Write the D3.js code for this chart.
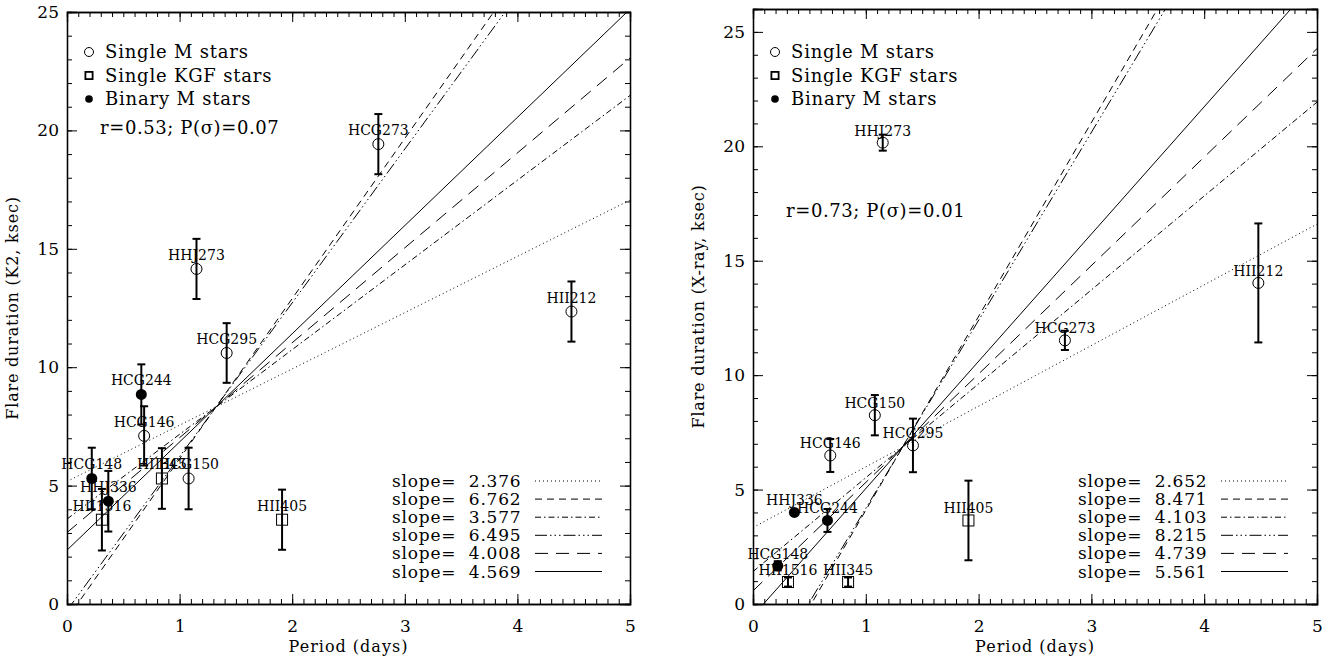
<!DOCTYPE html>
<html>
<head>
<meta charset="utf-8">
<script src="https://cdn.jsdelivr.net/npm/d3@7"></script>
<style>
body { margin: 0; background: #fff; }
svg text { font-family: "DejaVu Serif", serif; fill: #000; }
</style>
</head>
<body>
<svg id="chart" width="1337" height="661"></svg>
<script>
// Stars, their type and rotation period (days)
const stars = ['HHJ273', 'HII212', 'HCG273', 'HCG150', 'HCG146', 'HCG295',
               'HII405', 'HHJ336', 'HCG244', 'HCG148', 'HII1516', 'HII345'];
const starTypes = ['singleM', 'singleM', 'singleM', 'singleM', 'singleM', 'singleM',
                   'singleKGF', 'binaryM', 'binaryM', 'binaryM', 'singleKGF', 'singleKGF'];
const periods = [1.15, 4.48, 2.765, 1.08, 0.685, 1.418, 1.91, 0.367, 0.66, 0.22, 0.31, 0.843];

// Flare durations (ksec) and errors
const k2Duration = [14.15, 12.35, 19.42, 5.3, 7.1, 10.6, 3.56, 4.34, 8.85, 5.3, 3.56, 5.3];
const k2Error = [1.27, 1.27, 1.27, 1.3, 1.25, 1.26, 1.27, 1.28, 1.27, 1.3, 1.3, 1.28];
const xrayDuration = [20.16, 14.03, 11.52, 8.25, 6.49, 6.93, 3.65, 4.0, 3.65, 1.67, 0.96, 0.96];
const xrayError = [0.35, 2.6, 0.42, 0.88, 0.72, 1.17, 1.74, 0.1, 0.5, 0.2, 0.2, 0.2];

// Regression fits
const k2Slopes = [2.376, 6.762, 3.577, 6.495, 4.008, 4.569];
const k2Intercepts = [5.176, -0.626, 3.588, -0.273, 3.017, 2.275];
const xraySlopes = [2.652, 8.471, 4.103, 8.215, 4.739, 5.561];
const xrayIntercepts = [3.340, -4.374, 1.417, -4.035, 0.573, -0.516];
const lineStyles = ['dotted', 'dashed', 'dashdot', 'dashdot3', 'longdash', 'solid'];

const k2Stats = 'r=0.53; P(σ)=0.07';
const xrayStats = 'r=0.73; P(σ)=0.01';

const legendLabels = ['Single M stars', 'Single KGF stars', 'Binary M stars'];
const legendTypes = ['singleM', 'singleKGF', 'binaryM'];

const xTicks = [0, 1, 2, 3, 4, 5];
const yTicks = [0, 5, 10, 15, 20, 25];

const dashes = {
    dotted: '1,3',
    dashed: '7,5',
    dashdot: '6,3,1.5,3',
    dashdot3: '12,3,1.5,3,1.5,3,1.5,3',
    longdash: '13,8',
    solid: null
};

const svg = d3.select('#chart');

function drawPanel(cfg) {
    const x = d3.scaleLinear().domain([0, 5]).range([cfg.left, cfg.right]);
    const y = d3.scaleLinear().domain([0, cfg.yMax]).range([cfg.bottom, cfg.top]);
    const g = svg.append('g');
    const w = cfg.right - cfg.left;
    const h = cfg.bottom - cfg.top;

    // Clip for the fit lines
    g.append('clipPath').attr('id', cfg.id + '-clip')
        .append('rect')
        .attr('x', cfg.left).attr('y', cfg.top)
        .attr('width', w).attr('height', h);

    // Minor ticks
    const minorX = d3.range(0, 5.001, 0.1);
    const minorY = d3.range(0, cfg.yMax + 0.001, 1);
    g.append('g').attr('transform', `translate(0,${cfg.bottom})`)
        .call(d3.axisBottom(x).tickValues(minorX).tickSize(-5).tickFormat(''));
    g.append('g').attr('transform', `translate(0,${cfg.top})`)
        .call(d3.axisTop(x).tickValues(minorX).tickSize(-5).tickFormat(''));
    g.append('g').attr('transform', `translate(${cfg.left},0)`)
        .call(d3.axisLeft(y).tickValues(minorY).tickSize(-5).tickFormat(''));
    g.append('g').attr('transform', `translate(${cfg.right},0)`)
        .call(d3.axisRight(y).tickValues(minorY).tickSize(-5).tickFormat(''));

    // Major ticks with labels
    const yMajor = yTicks.filter(v => v <= cfg.yMax);
    g.append('g').attr('class', 'axis').attr('transform', `translate(0,${cfg.bottom})`)
        .call(d3.axisBottom(x).tickValues(xTicks).tickSize(-10).tickPadding(16).tickFormat(d3.format('d')));
    g.append('g').attr('transform', `translate(0,${cfg.top})`)
        .call(d3.axisTop(x).tickValues(xTicks).tickSize(-10).tickFormat(''));
    g.append('g').attr('class', 'axis').attr('transform', `translate(${cfg.left},0)`)
        .call(d3.axisLeft(y).tickValues(yMajor).tickSize(-10).tickPadding(8).tickFormat(d3.format('d')));
    g.append('g').attr('transform', `translate(${cfg.right},0)`)
        .call(d3.axisRight(y).tickValues(yMajor).tickSize(-10).tickFormat(''));

    g.selectAll('.domain').attr('stroke', '#000').attr('stroke-width', 1.3);
    g.selectAll('.tick line').attr('stroke', '#000').attr('stroke-width', 1);
    g.selectAll('.axis text')
        .attr('font-family', '"DejaVu Serif", serif')
        .attr('font-size', 17)
        .attr('fill', '#000');

    // Axis titles
    g.append('text')
        .attr('x', (cfg.left + cfg.right) / 2)
        .attr('y', 652)
        .attr('text-anchor', 'middle')
        .attr('font-size', 16)
        .attr('letter-spacing', 1)
        .text('Period (days)');
    g.append('text')
        .attr('transform', `translate(${cfg.left - 49},${(cfg.top + cfg.bottom) / 2}) rotate(-90)`)
        .attr('text-anchor', 'middle')
        .attr('font-size', 16)
        .attr('letter-spacing', 0.8)
        .text(cfg.yTitle);

    // Fit lines
    const line = d3.line().x(d => x(d[0])).y(d => y(d[1]));
    const lines = g.append('g').attr('clip-path', `url(#${cfg.id}-clip)`);
    cfg.slopes.forEach((s, i) => {
        const b = cfg.intercepts[i];
        lines.append('path')
            .attr('d', line([[0, b], [5, b + 5 * s]]))
            .attr('fill', 'none')
            .attr('stroke', '#000')
            .attr('stroke-width', 1)
            .attr('stroke-dasharray', dashes[lineStyles[i]]);
    });

    // Error bars
    const pts = stars.map((name, i) => ({
        name: name, type: starTypes[i], p: periods[i],
        v: cfg.values[i], e: cfg.errors[i]
    }));
    const eb = g.append('g');
    pts.forEach(d => {
        const cx = x(d.p);
        eb.append('line')
            .attr('x1', cx).attr('x2', cx)
            .attr('y1', y(d.v - d.e)).attr('y2', y(d.v + d.e))
            .attr('stroke', '#000').attr('stroke-width', 2);
        [d.v - d.e, d.v + d.e].forEach(v => {
            eb.append('line')
                .attr('x1', cx - 4).attr('x2', cx + 4)
                .attr('y1', y(v)).attr('y2', y(v))
                .attr('stroke', '#000').attr('stroke-width', 2);
        });
    });

    // Symbols
    pts.forEach(d => drawSymbol(g, d.type, x(d.p), y(d.v), 5.5));

    // Star labels
    g.append('g').selectAll('text')
        .data(pts)
        .enter().append('text')
        .attr('x', d => x(d.p))
        .attr('y', d => y(d.v) - cfg.labelGap)
        .attr('text-anchor', 'middle')
        .attr('font-size', 14)
        .text(d => d.name);

    // Symbol legend
    legendLabels.forEach((lab, i) => {
        const ly = 52 + i * 23.5;
        drawSymbol(g, legendTypes[i], cfg.left + 22, ly, 4.5, true);
        g.append('text')
            .attr('x', cfg.left + 38)
            .attr('y', ly + 6)
            .attr('font-size', 18)
            .attr('letter-spacing', 0.8)
            .text(lab);
    });

    // Correlation text
    g.append('text')
        .attr('x', cfg.left + 33)
        .attr('y', cfg.statsY)
        .attr('font-size', 18)
        .attr('letter-spacing', 0.6)
        .text(cfg.stats);

    // Slope legend
    const fmt = d3.format('.3f');
    cfg.slopes.forEach((s, i) => {
        const ly = cfg.bottom - 123 + i * 18.1;
        g.append('text')
            .attr('x', cfg.left + 325)
            .attr('y', ly + 6)
            .attr('font-size', 17)
            .attr('letter-spacing', 0.8)
            .style('white-space', 'pre')
            .text('slope=  ' + fmt(s));
        g.append('line')
            .attr('x1', cfg.left + 468).attr('x2', cfg.left + 535)
            .attr('y1', ly).attr('y2', ly)
            .attr('stroke', '#000').attr('stroke-width', 1)
            .attr('stroke-dasharray', dashes[lineStyles[i]]);
    });
}

function drawSymbol(g, type, cx, cy, r, legend) {
    if (type === 'singleM') {
        g.append('circle').attr('cx', cx).attr('cy', cy).attr('r', r)
            .attr('fill', 'none').attr('stroke', '#000').attr('stroke-width', 1);
    } else if (type === 'singleKGF') {
        const s = legend ? r * 0.8 : r;
        g.append('rect').attr('x', cx - s).attr('y', cy - s)
            .attr('width', 2 * s).attr('height', 2 * s)
            .attr('fill', 'none').attr('stroke', '#000')
            .attr('stroke-width', legend ? 1.8 : 1);
    } else {
        g.append('circle').attr('cx', cx).attr('cy', cy).attr('r', legend ? r * 0.85 : r)
            .attr('fill', '#000');
    }
}

drawPanel({
    id: 'k2', left: 67, right: 630, top: 12, bottom: 604, yMax: 25,
    values: k2Duration, errors: k2Error,
    slopes: k2Slopes, intercepts: k2Intercepts,
    yTitle: 'Flare duration (K2, ksec)', stats: k2Stats, statsY: 134, labelGap: 9
});

drawPanel({
    id: 'xray', left: 753, right: 1317, top: 9, bottom: 604, yMax: 26,
    values: xrayDuration, errors: xrayError,
    slopes: xraySlopes, intercepts: xrayIntercepts,
    yTitle: 'Flare duration (X-ray, ksec)', stats: xrayStats, statsY: 217, labelGap: 7
});
</script>
</body>
</html>
